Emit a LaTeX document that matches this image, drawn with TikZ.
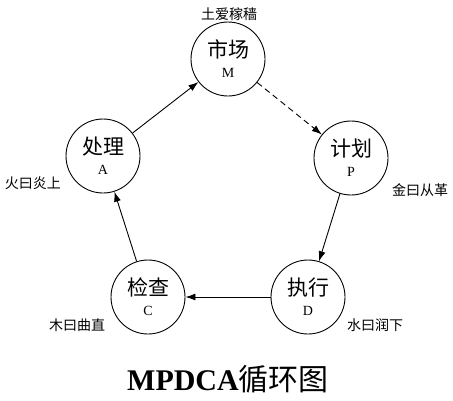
\documentclass[tikz,border=0pt]{standalone}
\usepackage{fontspec}
\setmainfont{Liberation Serif}
\newfontfamily\cjk{Noto Sans CJK SC}
\usetikzlibrary{arrows.meta}
\tikzset{
  stage/.style={circle, draw, line width=0.9pt, minimum size=74pt, inner sep=0pt, align=center},
  side/.style={font=\cjk\fontsize{14}{14}\selectfont, inner sep=0pt},
  flow/.style={line width=0.9pt, -{Latex[length=10pt,width=7pt]}},
}
\newcommand{\stg}[2]{{\cjk\fontsize{21}{21}\selectfont #1}\\[8pt]{\fontsize{14}{14}\selectfont #2}}
\begin{document}
\begin{tikzpicture}[x=1pt,y=-1pt]
\useasboundingbox (0,0) rectangle (453,400);
\node[stage] (M) at (228,59) {\stg{市场}{M}};
\node[stage] (P) at (351,158) {\stg{计划}{P}};
\node[stage] (D) at (308,297) {\stg{执行}{D}};
\node[stage] (C) at (148,297) {\stg{检查}{C}};
\node[stage] (A) at (103,156) {\stg{处理}{A}};
\node[side] (lM) at (229,14) {土爱稼穑};
\node[side] (lP) at (420,190) {金曰从革};
\node[side] (lD) at (375,325) {水曰润下};
\node[side] (lC) at (77,325) {木曰曲直};
\node[side] (lA) at (33,183) {火曰炎上};
\node (title) at (228,379) {\fontsize{30}{30}\selectfont\textbf{MPDCA}{\cjk 循环图}};
\draw[flow] (A) -- (M);
\draw[flow, dash pattern=on 6pt off 4pt] (M) -- (P);
\draw[flow] (P) -- (D);
\draw[flow] (D) -- (C);
\draw[flow] (C) -- (A);
\end{tikzpicture}
\end{document}
